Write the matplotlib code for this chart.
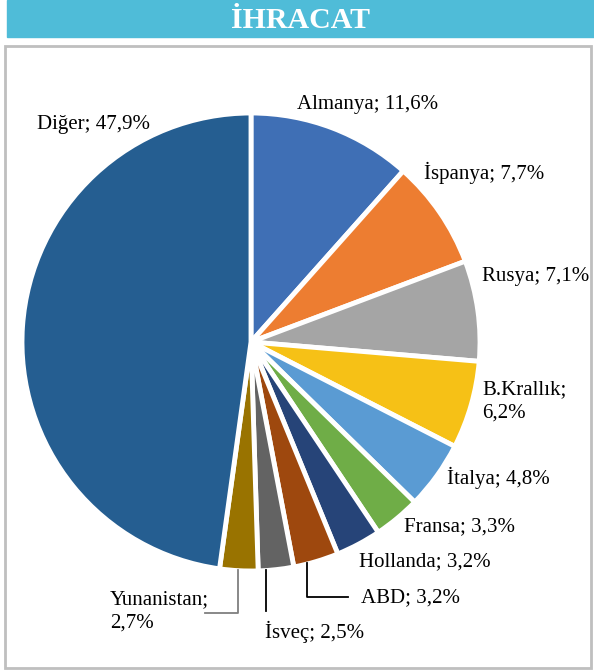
import matplotlib.pyplot as plt
from matplotlib.patches import Rectangle

countries = ["Almanya", "İspanya", "Rusya", "B.Krallık", "İtalya", "Fransa",
             "Hollanda", "ABD", "İsveç", "Yunanistan", "Diğer"]
shares = [11.6, 7.7, 7.1, 6.2, 4.8, 3.3, 3.2, 3.2, 2.5, 2.7, 47.9]
colors = ["#3F6FB5", "#ED7D31", "#A5A5A5", "#F6C116", "#5A9BD3", "#6FAD47",
          "#264478", "#9E480E", "#636363", "#997300", "#255E91"]
title = "İHRACAT"

W, H = 594, 672
cx, cy, R = 251, 342, 229  # pie centre and radius in pixels


def px(x, y):
    # pixel position -> data coords (pie radius = 1)
    return (x - cx) / R, (cy - y) / R


plt.rcParams["font.family"] = ["Liberation Serif", "DejaVu Serif"]

fig = plt.figure(figsize=(W / 100, H / 100), dpi=100)
ax = fig.add_axes([0, 0, 1, 1])

# title bar and frame
fig.add_artist(Rectangle((7 / W, 1 - 37 / H), (W - 7) / W, 37 / H,
                         transform=fig.transFigure, color="#4FBCD8", zorder=0))
fig.text((7 + W) / 2 / W, 1 - 20 / H, title, ha="center", va="center",
         color="white", fontsize=21.5, fontweight="bold")
fig.add_artist(Rectangle((5 / W, 1 - 668 / H), 586 / W, 622 / H,
                         transform=fig.transFigure, fill=False,
                         edgecolor="#BFBFBF", linewidth=2, zorder=0))

ax.pie(shares, colors=colors, startangle=90, counterclock=False,
       radius=1, center=(0, 0),
       wedgeprops=dict(edgecolor="white", linewidth=3.5))
ax.set_aspect("auto")
ax.set_xlim(-cx / R, (W - cx) / R)
ax.set_ylim((cy - H) / R, cy / R)
ax.axis("off")

labels = [f"{c}; {str(v).replace('.', ',')}%" for c, v in zip(countries, shares)]
labels[3] = labels[3].replace("; ", ";\n")
labels[9] = labels[9].replace("; ", ";\n")

# left edge x, vertical centre y (pixels)
label_pos = [(297, 105), (424, 173), (482, 277), (482, 401), (447, 478),
             (404, 527), (359, 562), (361, 598), (265, 632), (110, 611),
             (37, 125)]

for lab, (x, y) in zip(labels, label_pos):
    tx, ty = px(x, y)
    ax.text(tx, ty, lab, ha="left", va="center", fontsize=15,
            linespacing=1.3, color="black")


def leader(points, color):
    xs, ys = zip(*[px(x, y) for x, y in points])
    ax.plot(xs, ys, color=color, linewidth=1.3)


leader([(307, 563), (307, 597), (348, 597)], "black")
leader([(266, 570), (266, 611)], "black")
leader([(238, 570), (238, 613), (205, 613)], "#7F7F7F")

fig.savefig("out.png", dpi=100)
